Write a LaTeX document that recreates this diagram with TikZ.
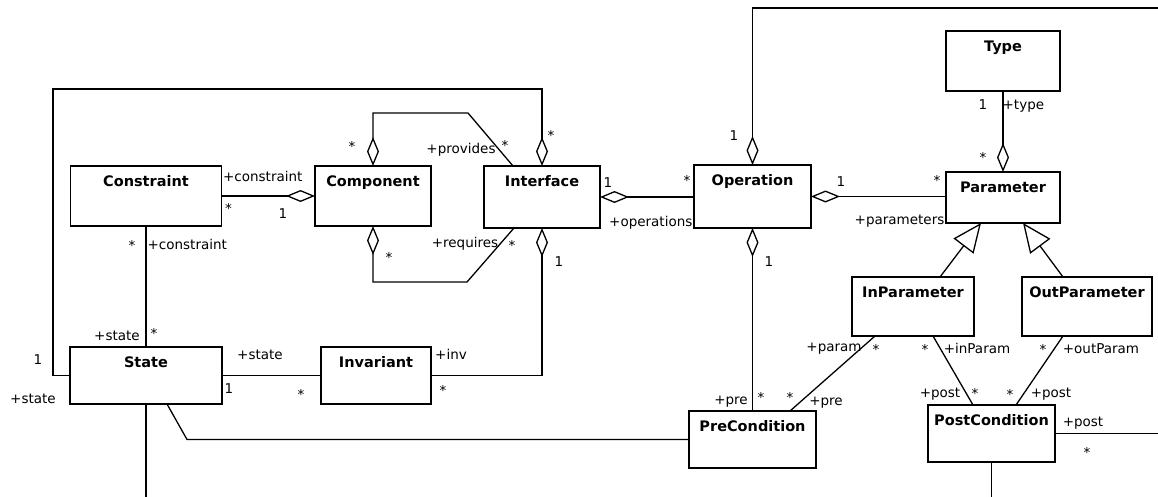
\documentclass[tikz,border=0pt]{standalone}
\usepackage{fontspec}
\setmainfont{DejaVu Sans}
\usetikzlibrary{arrows.meta}

\tikzset{
  classbox/.style={draw, rectangle, inner sep=0pt, outer sep=0pt},
  classname/.style={anchor=north, yshift=-9pt, inner sep=0pt, font=\fontsize{14.5}{16}\selectfont\bfseries},
  role/.style={inner sep=0pt, text height=10pt, text depth=2pt, font=\fontsize{13.5}{15}\selectfont},
  many/.style={role, yshift=-3.5pt},
  aggr/.style={arrows={Diamond[open,length=29pt,width=12pt]-}},
  gen/.style={arrows={-Triangle[open,length=29pt,width=25pt]}}
}

\begin{document}
\begin{tikzpicture}[x=1pt,y=-1pt,line width=1.3pt]
	\useasboundingbox (0,0) rectangle (1158,497);

	% classes
	\node[classbox, minimum width=151pt, minimum height=60pt, label={[classname]north:Constraint}] (constraint) at (146,196) {};
	\node[classbox, minimum width=116pt, minimum height=60pt, label={[classname]north:Component}] (component) at (373,196) {};
	\node[classbox, minimum width=116pt, minimum height=62pt, label={[classname]north:Interface}] (interface) at (542,197) {};
	\node[classbox, minimum width=117pt, minimum height=63pt, label={[classname]north:Operation}] (operation) at (752.5,196.5) {};
	\node[classbox, minimum width=114pt, minimum height=60pt, label={[classname]north:Type}] (type) at (1003,61) {};
	\node[classbox, minimum width=114pt, minimum height=51pt, label={[classname]north:Parameter}] (parameter) at (1003,197.5) {};
	\node[classbox, minimum width=122pt, minimum height=59pt, label={[classname]north:InParameter}] (inparam) at (913,306.5) {};
	\node[classbox, minimum width=130pt, minimum height=59pt, label={[classname]north:OutParameter}] (outparam) at (1087,306.5) {};
	\node[classbox, minimum width=127pt, minimum height=57pt, label={[classname]north:PostCondition}] (postcond) at (991.5,433.5) {};
	\node[classbox, minimum width=127pt, minimum height=57pt, label={[classname]north:PreCondition}] (precond) at (752.5,439.5) {};
	\node[classbox, minimum width=152pt, minimum height=57pt, label={[classname]north:State}] (state) at (146,375.5) {};
	\node[classbox, minimum width=110pt, minimum height=57pt, label={[classname]north:Invariant}] (invariant) at (376,375.5) {};

	% bends and loose ends
	\coordinate (provbend) at (468,113);
	\coordinate (reqbend) at (467,282);
	\coordinate (outerbend) at (53,89);
	\coordinate (prebend) at (187,439.5);
	\coordinate (opfree) at (1160,8);
	\coordinate (postfree) at (1160,433.5);
	\coordinate (postdown) at (991.5,499);
	\coordinate (statedown) at (146,499);

	% aggregations
	\draw[aggr] (component.west) -- (constraint.east)
		node[role, at end, anchor=west, shift={(1,-18)}] {+constraint}
		node[many, at end, shift={(7,10)}] {*}
		node[role, at start, shift={(-32,18)}] {1};
	\draw[aggr] (component.north) |- (provbend)
		node[many, at start, shift={(-21,-22)}] {*}
		-- ([xshift=-29pt]interface.north)
		node[role, at end, shift={(-52,-16)}] {+provides}
		node[many, at end, shift={(-8,-23)}] {*};
	\draw[aggr] (interface.north) |- (outerbend)
		node[many, at start, shift={(9,-33)}] {*}
		|- (state.west)
		node[role, at end, shift={(-32,-15.5)}] {1}
		node[role, at end, shift={(-37,23.5)}] {+state};
	\draw[aggr] (component.south) |- (reqbend)
		node[many, at start, shift={(16,29)}] {*}
		-- ([xshift=-28pt]interface.south)
		node[role, at end, shift={(-49,15)}] {+requires}
		node[many, at end, shift={(-2,15)}] {*};
	\draw[aggr] (interface.south) |- (invariant.east)
		node[role, at start, shift={(17,34)}] {1}
		node[role, at end, shift={(20,-20.5)}] {+inv}
		node[many, at end, shift={(12,12.5)}] {*};
	\draw[aggr] (interface.east) -- (interface.east -| operation.west)
		node[role, at start, shift={(8,-14)}] {1}
		node[many, at end, shift={(-7,-19)}] {*}
		node[role, at end, anchor=east, shift={(-1,25)}] {+operations};
	\draw[aggr] (operation.north) |- (opfree)
		node[role, at start, shift={(-18.5,-28)}] {1};
	\draw[aggr] (operation.east) -- (operation.east -| parameter.west)
		node[role, at start, shift={(30,-14.5)}] {1}
		node[many, at end, shift={(-9,-18.5)}] {*}
		node[role, at end, anchor=east, shift={(-1,23.5)}] {+parameters};
	\draw[aggr] (parameter.north) -- (type.south)
		node[many, at start, shift={(-20,-17)}] {*}
		node[role, at end, shift={(-20,15)}] {1}
		node[role, at end, anchor=west, shift={(-1,15)}] {+type};
	\draw[aggr] (operation.south) -- (precond.north)
		node[role, at start, shift={(16.5,34)}] {1}
		node[role, at end, shift={(-21.5,-11)}] {+pre}
		node[many, at end, shift={(8.5,-16)}] {*};

	% generalizations
	\draw[gen] ([xshift=27pt]inparam.north) -- ([xshift=-22pt]parameter.south);
	\draw[gen] ([xshift=-24pt]outparam.north) -- ([xshift=20pt]parameter.south);

	% plain associations
	\draw ([xshift=-38pt]inparam.south) -- ([xshift=37.5pt]precond.north)
		node[role, at start, shift={(-41,11)}] {+param}
		node[many, at start, shift={(1,11)}] {*}
		node[many, at end, shift={(0,-16)}] {*}
		node[role, at end, shift={(36,-10)}] {+pre};
	\draw ([xshift=20pt]inparam.south) -- ([xshift=-18.5pt]postcond.north)
		node[many, at start, shift={(-8,11)}] {*}
		node[role, at start, shift={(44,13)}] {+inParam}
		node[role, at end, shift={(-33,-12)}] {+post}
		node[many, at end, shift={(2,-14)}] {*};
	\draw ([xshift=-24pt]outparam.south) -- ([xshift=24.5pt]postcond.north)
		node[many, at start, shift={(-20,11)}] {*}
		node[role, at start, shift={(38,13)}] {+outParam}
		node[many, at end, shift={(-6,-13)}] {*}
		node[role, at end, shift={(35,-12)}] {+post};
	\draw (postcond.east) -- (postfree)
		node[role, at start, shift={(28,-11.5)}] {+post}
		node[many, at start, shift={(32,16.5)}] {*};
	\draw (postcond.south) -- (postdown);
	\draw (constraint.south) -- (state.north)
		node[many, at start, shift={(-14,17)}] {*}
		node[role, at start, anchor=west, shift={(1,19)}] {+constraint}
		node[role, at end, shift={(-29,-11)}] {+state}
		node[many, at end, shift={(8,-16)}] {*};
	\draw (state.east) -- (invariant.west)
		node[role, at start, shift={(38,-20.5)}] {+state}
		node[role, at start, shift={(7,13.5)}] {1}
		node[many, at end, shift={(-20,16.5)}] {*};
	\draw ([xshift=21pt]state.south) -- (prebend) -- (precond.west);
	\draw (state.south) -- (statedown);
\end{tikzpicture}
\end{document}
